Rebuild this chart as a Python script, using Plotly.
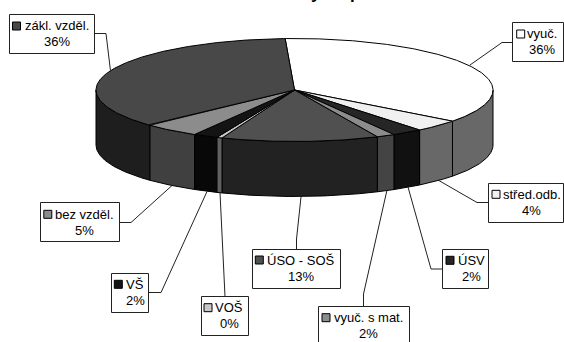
import numpy as np
import plotly.graph_objects as go

# Slices, clockwise from the top of the pie
categories = ['vyuč.', 'střed.odb.', 'ÚSV', 'vyuč. s mat.', 'ÚSO - SOŠ',
              'VOŠ', 'VŠ', 'bez vzděl.', 'zákl. vzděl.']
shares = [36.1, 3.8, 2.5, 1.5, 12.8, 0.45, 2.0, 4.6, 36.25]
share_labels = ['36%', '4%', '2%', '2%', '13%', '0%', '2%', '5%', '36%']

# Greys: top face and outer wall of each slice
top_colors = ['#ffffff', '#f0f0f0', '#262626', '#8c8c8c', '#505050',
              '#c8c8c8', '#141414', '#8c8c8c', '#484848']
wall_colors = ['#686868', '#686868', '#111111', '#444444', '#222222',
               '#606060', '#080808', '#404040', '#1e1e1e']

# Pie geometry in page pixels
cx, cy = 294.5, 90
rx, ry = 198.5, 51.5
depth = 55
start_angle = -92.7

# Label boxes (left, top, right, bottom), text centre, swatch centre, leader line
boxes = [(512.5, 22.5, 563.5, 61.5), (488.5, 183.5, 563.5, 222.5), (442.5, 249.5, 488.5, 288.5),
         (318.5, 306.5, 409.5, 350), (252.5, 249.5, 340.5, 288.5), (201.5, 296.5, 248.5, 335.5),
         (111.5, 273.5, 148.5, 312.5), (40.5, 202.5, 119.5, 241.5), (9.5, 14.5, 94.5, 53.5)]
text_x = [542, 531.5, 471, 368, 301, 229, 135, 84.7, 56.5]
text_y = [42, 202.5, 268.5, 325.5, 268.5, 316, 292.7, 222.5, 33.5]
swatch_x = [520.7, 496, 450, 326, 259.3, 208, 118.3, 47.8, 16.5]
swatch_y = [34, 194.3, 260.3, 317.7, 260, 307.7, 284.3, 214.3, 26]
leaders = [[(512.5, 42.5), (502, 42.5), (470, 65)],
           [(488.5, 202.5), (477, 202.5), (438, 180)],
           [(442.5, 269), (431, 269), (408, 187)],
           [(363.5, 306.5), (363.5, 294), (387, 190)],
           [(296.5, 249.5), (296.5, 239), (301, 197)],
           [(225, 296.5), (220, 192.5)],
           [(148.5, 292.5), (161, 292.5), (207, 191.5)],
           [(119.5, 222.5), (131, 222.5), (172, 185.5)],
           [(94.5, 33.5), (106, 33.5), (110.5, 71)]]

# The title is cut off by the page edge, only these two tails can be read
title_letters = ['y', 'p']
title_x = [315.5, 355]

edges = start_angle + np.cumsum([0] + shares) * 360 / sum(shares)


def arc(a0, a1):
    t = np.radians(np.linspace(a0, a1, max(int(abs(a1 - a0)) * 2, 2) + 1))
    return cx + rx * np.cos(t), cy + ry * np.sin(t)


fig = go.Figure()

# Outer walls, only the front half of the rim can be seen
for i in range(len(shares)):
    a0, a1 = max(edges[i], 0), min(edges[i + 1], 180)
    if a1 <= a0:
        continue
    x, y = arc(a0, a1)
    fig.add_trace(go.Scatter(
        x=np.r_[x, x[::-1], x[0]], y=np.r_[y, y[::-1] + depth, y[0]],
        mode='lines', fill='toself', fillcolor=wall_colors[i],
        line=dict(color='#000000', width=1), hoverinfo='skip', showlegend=False))

# Top faces
for i in range(len(shares)):
    x, y = arc(edges[i], edges[i + 1])
    fig.add_trace(go.Scatter(
        x=np.r_[cx, x, cx], y=np.r_[cy, y, cy],
        mode='lines', fill='toself', fillcolor=top_colors[i],
        line=dict(color='#000000', width=1), name=categories[i],
        hoverinfo='skip', showlegend=False))

# Leader lines
for pts in leaders:
    fig.add_trace(go.Scatter(
        x=[p[0] for p in pts], y=[p[1] for p in pts], mode='lines',
        line=dict(color='#222222', width=1), hoverinfo='skip', showlegend=False))

# Legend keys inside the labels
fig.add_trace(go.Scatter(
    x=swatch_x, y=swatch_y, mode='markers',
    marker=dict(symbol='square', size=8, color=top_colors, line=dict(color='#000000', width=1)),
    hoverinfo='skip', showlegend=False))

for (x0, y0, x1, y1) in boxes:
    fig.add_shape(type='rect', x0=x0, y0=y0, x1=x1, y1=y1, layer='below',
                  line=dict(color='#222222', width=1), fillcolor='#ffffff')

# Two separate texts per label, the reference has tighter lines than <br> gives
label_font = dict(family='Liberation Sans', size=13, color='#000000')
for i, name in enumerate(categories):
    fig.add_annotation(x=text_x[i], y=text_y[i] - 8.5, text=name, showarrow=False, font=label_font)
    fig.add_annotation(x=text_x[i], y=text_y[i] + 7.5, text=share_labels[i], showarrow=False, font=label_font)

# paper coordinates, an axis annotation above the range would be hidden
for letter, x in zip(title_letters, title_x):
    fig.add_annotation(x=x / 564, xref='paper', y=1 + 6 / 342, yref='paper', yanchor='middle',
                       text='<b>' + letter + '</b>', showarrow=False,
                       font=dict(family='Liberation Sans', size=17, color='#000000'))

fig.update_layout(
    width=564, height=342,
    margin=dict(l=0, r=0, t=0, b=0),
    paper_bgcolor='#ffffff', plot_bgcolor='#ffffff',
    xaxis=dict(range=[0, 564], visible=False, fixedrange=True),
    yaxis=dict(range=[342, 0], visible=False, fixedrange=True),
)

fig.write_html('out.html', config={'displayModeBar': False},
               post_script="document.body.style.margin='0';")
